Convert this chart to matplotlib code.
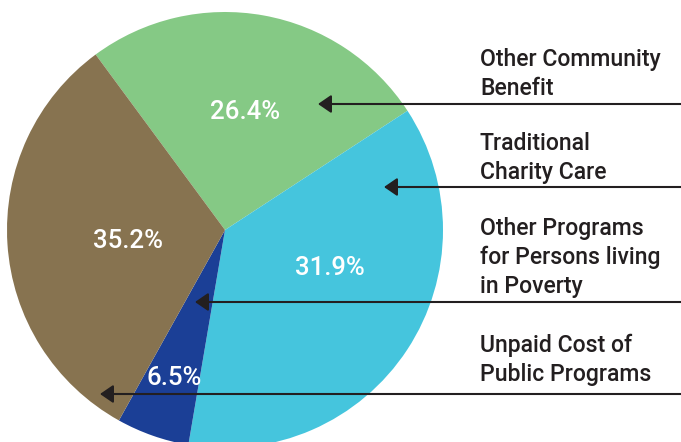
import matplotlib
matplotlib.use("Agg")
import matplotlib.pyplot as plt

# shares as drawn in the picture (degrees of the wedges)
shares = [25.9, 36.9, 5.4, 31.8]
pct_labels = ["26.4%", "31.9%", "6.5%", "35.2%"]
colors = ["#85c985", "#45c5dd", "#1b3f96", "#877350"]
categories = [
    "Other Community\nBenefit",
    "Traditional\nCharity Care",
    "Other Programs\nfor Persons living\nin Poverty",
    "Unpaid Cost of\nPublic Programs",
]

W, H = 681, 442
FONT = ["Roboto", "DejaVu Sans"]
INK = "#231f20"

fig = plt.figure(figsize=(W / 100, H / 100), dpi=100)
ax = fig.add_axes([0, 0, 1, 1])

# pie, in pixel-like coords (y up)
cx, cy, r = 225, H - 230, 218
ax.pie(shares, colors=colors, startangle=126.4, counterclock=False,
       center=(cx, cy), radius=r, wedgeprops=dict(linewidth=0))

# white percentage labels inside the wedges (pixel positions)
pct_pos = [(245, 112), (330, 268), (174, 378), (128, 241)]
for (x, y), txt in zip(pct_pos, pct_labels):
    ax.text(x, H - y, txt, color="white", fontsize=18.5, family=FONT,
            weight="medium", ha="center", va="center")

# category labels on the right
label_top = [48, 132, 217, 334]
for y, txt in zip(label_top, categories):
    ax.text(480, H - y, txt, color=INK, fontsize=16.6, family=FONT,
            weight="medium", ha="left", va="top", linespacing=1.33)

# leader lines with arrow heads pointing into the pie
arrow_y = [104, 187, 302, 394]
arrow_tip = [318, 384, 195, 100]
for y, tip in zip(arrow_y, arrow_tip):
    ax.annotate("", xy=(tip, H - y), xytext=(W + 5, H - y),
                arrowprops=dict(arrowstyle="-|>,head_length=0.8,head_width=0.55",
                                color=INK, lw=1.5, shrinkA=0, shrinkB=0,
                                mutation_scale=10))

ax.set_xlim(0, W)
ax.set_ylim(0, H)
ax.set_aspect("auto")
ax.axis("off")

fig.savefig("out.png", dpi=100)
